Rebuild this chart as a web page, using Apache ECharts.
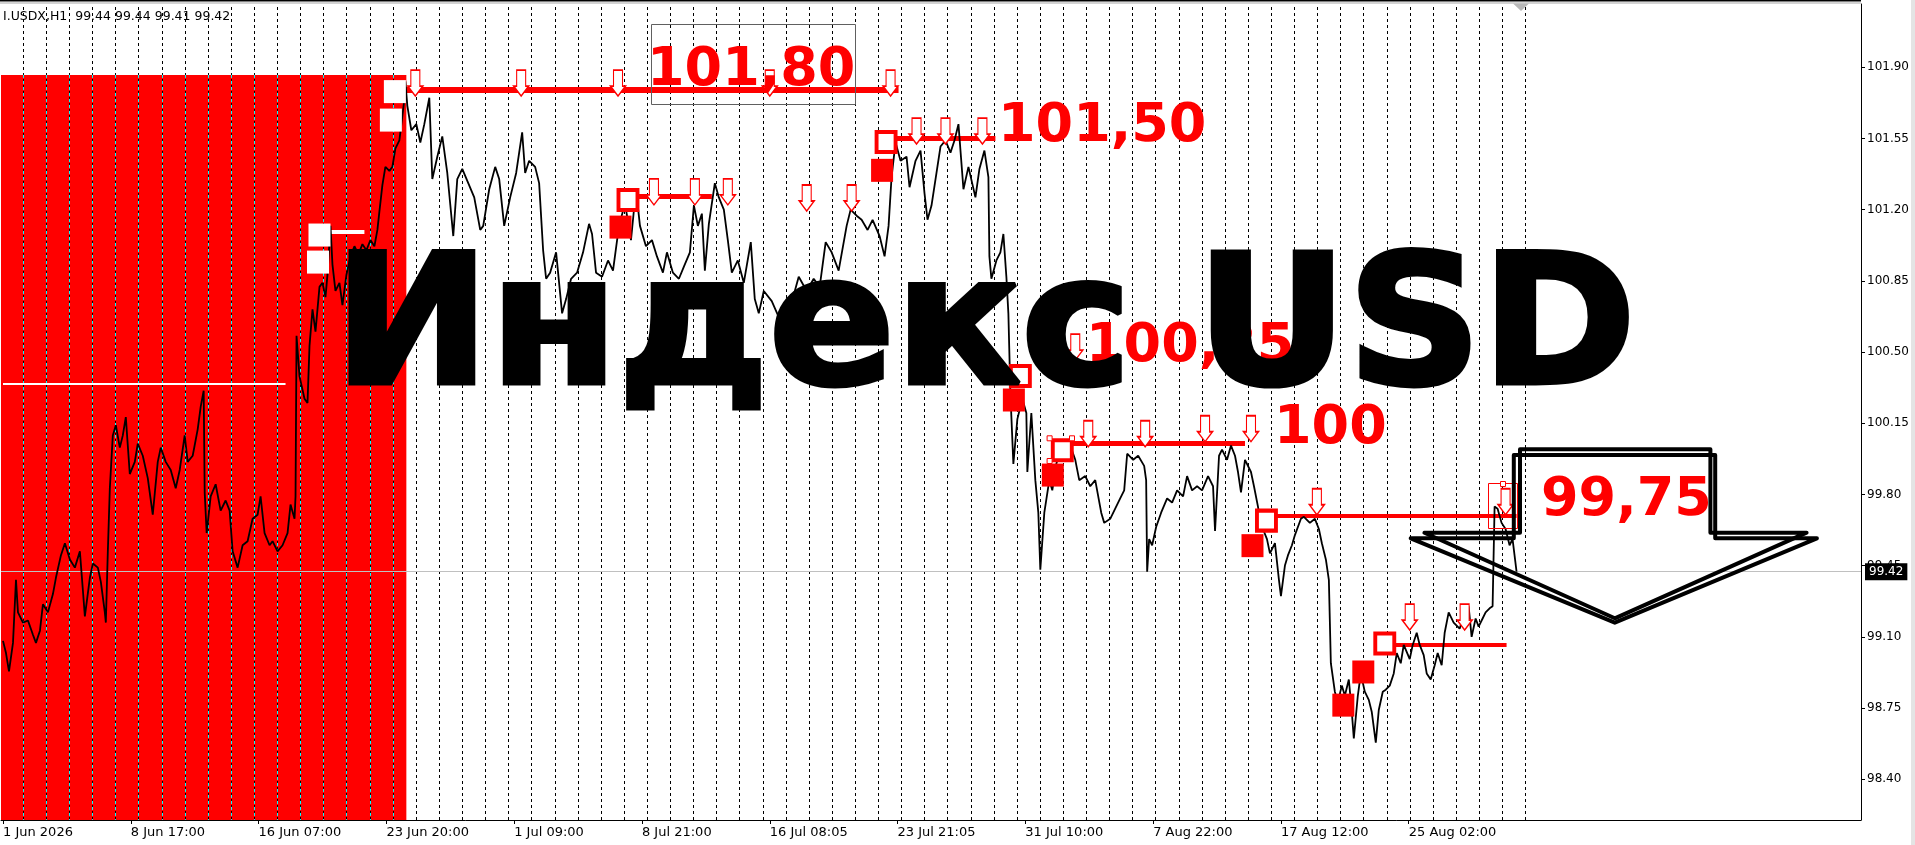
<!DOCTYPE html>
<html><head><meta charset="utf-8">
<script src="https://cdn.jsdelivr.net/npm/echarts@6/dist/echarts.min.js"></script>
<style>html,body{margin:0;padding:0;background:#fff;overflow:hidden}#c{width:1915px;height:845px}</style>
</head><body><div id="c"></div>
<script>
// ---------------- data ----------------
const timeLabels = ['1 Jun 2026','8 Jun 17:00','16 Jun 07:00','23 Jun 20:00','1 Jul 09:00','8 Jul 21:00','16 Jul 08:05','23 Jul 21:05','31 Jul 10:00','7 Aug 22:00','17 Aug 12:00','25 Aug 02:00'];
const timeLabelBars = [0,128,256,384,512,640,768,896,1024,1152,1280,1408];
const priceTicks = [98.40,98.75,99.10,99.45,99.80,100.15,100.50,100.85,101.20,101.55,101.90];
const headerText = 'I.USDX,H1  99.44 99.44 99.41 99.42';
const lastPrice = 99.42;
// [bar index, close]
const closeSeries = [[0,99.08],[3,99.02],[6,98.93],[10,99.07],[13,99.38],[15,99.22],[20,99.17],[25,99.18],[30,99.11],[33,99.07],[37,99.13],[40,99.26],[45,99.22],[50,99.31],[53,99.39],[58,99.50],[62,99.56],[67,99.48],[72,99.44],[77,99.52],[80,99.33],[82,99.20],[87,99.39],[90,99.46],[95,99.44],[98,99.37],[102,99.22],[103,99.17],[105,99.52],[107,99.83],[110,100.09],[113,100.14],[117,100.03],[120,100.09],[123,100.18],[127,99.90],[132,99.96],[135,100.05],[140,99.99],[145,99.88],[150,99.70],[155,99.96],[158,100.03],[163,99.96],[168,99.92],[173,99.83],[177,99.92],[182,100.09],[185,99.96],[190,99.99],[195,100.12],[198,100.23],[201,100.31],[202,99.81],[204,99.61],[208,99.79],[213,99.85],[218,99.72],[223,99.77],[227,99.72],[230,99.52],[235,99.44],[240,99.55],[245,99.57],[250,99.68],[255,99.70],[258,99.79],[262,99.61],[267,99.55],[270,99.57],[275,99.52],[280,99.55],[285,99.61],[288,99.75],[292,99.68],[293,99.79],[294,100.58],[297,100.38],[302,100.27],[305,100.25],[307,100.53],[310,100.71],[313,100.60],[317,100.82],[320,100.84],[323,100.77],[325,100.88],[328,101.12],[330,100.93],[333,100.80],[337,100.84],[340,100.73],[344,100.88],[348,100.97],[352,101.02],[356,100.98],[360,101.03],[364,101.00],[368,101.05],[372,101.02],[375,101.10],[377,101.19],[380,101.32],[383,101.41],[387,101.39],[390,101.41],[393,101.50],[397,101.54],[399,101.62],[402,101.74],[403,101.83],[405,101.71],[409,101.59],[414,101.62],[418,101.53],[422,101.62],[427,101.75],[430,101.35],[435,101.46],[440,101.56],[445,101.38],[451,101.07],[455,101.35],[460,101.40],[466,101.33],[472,101.26],[478,101.10],[481,101.12],[487,101.30],[493,101.41],[497,101.35],[502,101.12],[508,101.26],[514,101.38],[520,101.58],[523,101.38],[527,101.44],[533,101.41],[537,101.33],[541,101.00],[544,100.86],[548,100.89],[554,100.99],[560,100.69],[564,100.76],[569,100.86],[575,100.89],[581,100.99],[587,101.13],[590,101.08],[594,100.89],[600,100.87],[606,100.95],[611,100.90],[617,101.12],[623,101.23],[629,101.05],[634,101.30],[638,101.12],[644,101.02],[650,101.05],[655,100.97],[661,100.89],[665,100.99],[671,100.89],[677,100.86],[682,100.92],[688,100.99],[692,101.22],[696,101.12],[700,101.18],[703,100.90],[707,101.13],[713,101.33],[717,101.26],[722,101.20],[726,101.05],[730,100.89],[736,100.95],[742,100.84],[749,101.04],[753,100.76],[757,100.69],[762,100.80],[770,100.75],[778,100.66],[785,100.72],[792,100.78],[797,100.87],[805,100.80],[812,100.86],[818,100.82],[824,101.04],[830,100.99],[837,100.90],[845,101.12],[849,101.20],[855,101.17],[860,101.15],[866,101.10],[871,101.15],[878,101.07],[883,100.97],[887,101.12],[890,101.36],[894,101.53],[899,101.44],[905,101.46],[908,101.31],[914,101.44],[919,101.49],[923,101.28],[926,101.15],[930,101.22],[935,101.38],[939,101.51],[944,101.54],[949,101.48],[953,101.54],[957,101.62],[962,101.30],[967,101.41],[974,101.26],[978,101.40],[983,101.49],[987,101.36],[988,100.97],[990,100.86],[995,100.95],[999,100.99],[1002,101.08],[1005,100.87],[1007,100.69],[1009,100.30],[1012,99.95],[1016,100.17],[1021,100.27],[1025,100.20],[1026,99.91],[1030,100.20],[1034,99.87],[1037,99.71],[1039,99.43],[1043,99.71],[1048,99.87],[1051,99.82],[1055,99.95],[1059,100.02],[1064,100.00],[1069,100.04],[1074,99.97],[1078,99.87],[1084,99.89],[1089,99.84],[1094,99.87],[1100,99.71],[1103,99.66],[1109,99.68],[1114,99.73],[1119,99.78],[1123,99.82],[1126,100.00],[1132,99.97],[1137,99.99],[1143,99.94],[1145,99.87],[1146,99.42],[1148,99.58],[1151,99.55],[1155,99.64],[1160,99.71],[1166,99.78],[1171,99.76],[1176,99.82],[1182,99.79],[1186,99.89],[1191,99.82],[1196,99.84],[1201,99.82],[1207,99.89],[1212,99.84],[1214,99.62],[1218,99.99],[1221,100.02],[1226,99.97],[1230,100.04],[1234,99.99],[1237,99.91],[1240,99.81],[1244,99.97],[1250,99.91],[1253,99.84],[1257,99.74],[1259,99.68],[1262,99.63],[1266,99.58],[1269,99.51],[1274,99.56],[1278,99.38],[1280,99.30],[1284,99.45],[1287,99.50],[1291,99.55],[1294,99.60],[1300,99.68],[1303,99.69],[1309,99.66],[1314,99.68],[1318,99.63],[1321,99.56],[1325,99.48],[1328,99.38],[1330,98.97],[1334,98.83],[1337,98.78],[1341,98.86],[1344,98.81],[1348,98.89],[1351,98.73],[1353,98.60],[1357,98.81],[1360,98.92],[1364,98.83],[1368,98.79],[1371,98.73],[1375,98.58],[1378,98.74],[1382,98.83],[1385,98.84],[1389,98.86],[1393,98.92],[1396,99.02],[1400,98.97],[1403,99.06],[1409,98.99],[1412,99.06],[1416,99.12],[1419,99.06],[1423,99.01],[1426,98.92],[1430,98.89],[1434,98.96],[1437,99.02],[1441,98.96],[1444,99.12],[1448,99.22],[1453,99.17],[1459,99.14],[1464,99.22],[1468,99.25],[1471,99.10],[1475,99.19],[1478,99.15],[1482,99.19],[1485,99.22],[1489,99.24],[1492,99.25],[1494,99.74],[1497,99.73],[1501,99.66],[1505,99.63],[1509,99.55],[1512,99.58],[1516,99.42]];
// red zone [startBar, endBar, topPrice]
const redZone = [-2, 404, 101.862];
// level lines [startBar, endBar, price]
const levelLines = [[388,897,101.79],[626,710,101.266],[884,994,101.552],[1061,1244,100.051],[1265,1516,99.695],[1384,1506,99.063]];
const whiteLines = [[0,283,100.345],[324,362,101.09]];
// down arrows [bar, tip price]
const downArrows = [[413,101.758],[519,101.758],[616,101.758],[768,101.758],[889,101.758],[652,101.223],[693,101.223],[726,101.223],[805,101.193],[850,101.193],[915,101.522],[944,101.522],[981,101.522],[1053,100.46],[1074,100.46],[1087,100.034],[1144,100.034],[1204,100.059],[1250,100.059],[1316,99.70],[1505,99.70],[1409,99.133],[1464,99.133]];
// squares [bar, price]
const filledSquares = [[618.5,101.114],[880.5,101.393],[1012.5,100.264],[1051.5,99.895],[1251.5,99.548],[1362.5,98.927],[1342.5,98.764]];
const outlinedSquares = [[626,101.247],[884.5,101.532],[1019,100.382],[1061,100.017],[1265.5,99.671],[1384,99.067]];
const whiteSquares = [[392.5,101.78],[388.5,101.64],[317,101.075],[315.5,100.942]];
const levelTexts = ['101,80','101,50','100,25','100','99,75'];
const bigTitle = 'Индекс USD';

// ---------------- layout ----------------
const W = 1915, H = 845;
const GRID = {left:-2, top:4, right:54, bottom:25};
const X_MIN = -2, X_MAX = 1861;
const Y_MAX = 102.2107, Y_MIN = 98.1994;
const FONT = '"DejaVu Sans", Tahoma, sans-serif';

const gridXs = []; for (let k = 0; k <= 65; k++) gridXs.push(+(20.2 + k*23.15).toFixed(2));
const cyanXs = gridXs.filter(x => x < redZone[1]);

const chart = echarts.init(document.getElementById('c'), null, {renderer:'canvas', width:W, height:H});
const dummy = [[100, 100]];
const seg = (a) => [{coord:[a[0], a[2]]}, {coord:[a[1], a[2]]}];
const levelWidths = [6,5,5,5,4,4];
const whiteWidths = [2,4];

const arrowPath = 'path://M3,0 L12,0 L12,16 L15,16 L7.5,26 L0,16 L3,16 Z';
const hidden = {showSymbol:false, symbol:'none', lineStyle:{opacity:0}, silent:true, animation:false};

const series = [
  Object.assign({type:'line', z:1, data:dummy,
   markLine:{silent:true, animation:false, symbol:['none','none'], label:{show:false},
     lineStyle:{color:'#000', type:[3,3], width:1}, data:gridXs.map(x => ({xAxis:x}))}}, hidden),
  Object.assign({type:'line', z:2, data:dummy,
   markArea:{silent:true, animation:false, itemStyle:{color:'#ff0000', opacity:1, borderWidth:0}, label:{show:false},
     data:[[{coord:[redZone[0], redZone[2]]}, {coord:[redZone[1], Y_MIN]}]]}}, hidden),
  Object.assign({type:'line', z:3, data:dummy,
   markLine:{silent:true, animation:false, symbol:['none','none'], label:{show:false},
     lineStyle:{color:'#00ffff', type:[3,3], width:1},
     data:cyanXs.map(x => [{coord:[x, redZone[2]]}, {coord:[x, Y_MIN]}])}}, hidden),
  Object.assign({type:'line', z:4, data:dummy,
   markLine:{silent:true, animation:false, symbol:['none','none'], label:{show:false},
     data:whiteLines.map((l,i) => { const s = seg(l); s[0].lineStyle = {color:'#fff', width:whiteWidths[i], type:'solid'}; return s; })}}, hidden),
  Object.assign({type:'line', z:4, data:dummy,
   markLine:{silent:true, animation:false, symbol:['none','none'],
     lineStyle:{color:'#c0c0c0', width:1, type:'solid'},
     label:{show:true, position:'end', distance:4, formatter:lastPrice.toFixed(2), color:'#fff', backgroundColor:'#000',
       padding:[3,4,2,4], fontSize:12, fontFamily:FONT},
     data:[{yAxis:lastPrice}]}}, hidden),
  {type:'line', z:5, data:closeSeries, showSymbol:false, silent:true, animation:false,
   lineStyle:{color:'#000', width:1.8}},
  {type:'scatter', z:6, silent:true, animation:false, symbol:'rect', symbolSize:[22,23],
   itemStyle:{color:'#ff0000', opacity:1}, data:filledSquares},
  {type:'scatter', z:6, silent:true, animation:false, symbol:'rect', symbolSize:[19,20],
   itemStyle:{color:'#ffffff', borderColor:'#ff0000', borderWidth:4, opacity:1}, data:outlinedSquares},
  {type:'scatter', z:6, silent:true, animation:false, symbol:'rect', symbolSize:[22,23],
   itemStyle:{color:'#ffffff', opacity:1}, data:whiteSquares},
  Object.assign({type:'line', z:7, data:dummy,
   markLine:{silent:true, animation:false, symbol:['none','none'], label:{show:false},
     data:levelLines.map((l,i) => { const s = seg(l); s[0].lineStyle = {color:'#ff0000', width:levelWidths[i], type:'solid'}; return s; })}}, hidden),
  {type:'scatter', z:8, silent:true, animation:false, symbol:arrowPath, symbolSize:[15,26], symbolOffset:[0,'-50%'],
   itemStyle:{color:'#ffffff', borderColor:'#ff0000', borderWidth:1.4, opacity:1}, data:downArrows}
];

function measure(txt, font){ const c = document.createElement('canvas').getContext('2d'); c.font = font; return c.measureText(txt).width; }
const bigFont = 'bold 180px "DejaVu Sans"';
const bigScale = 1302 / measure(bigTitle, bigFont);
const redFont = 'bold 54px "DejaVu Sans"';
const redPos = [[647,70.5],[998,126.5],[1086,346.5],[1274,428.5],[1541,500.5]];

const g = [];
g.push({type:'rect', z:50, shape:{x:0, y:0, width:X_MAX, height:1.6}, style:{fill:'#000'}});
g.push({type:'rect', z:50, shape:{x:0, y:2.4, width:X_MAX, height:1}, style:{fill:'#a8a8a8'}});
g.push({type:'polygon', z:50, shape:{points:[[1513,3.5],[1529,3.5],[1521,11]]}, style:{fill:'#b8b8b8'}});
g.push({type:'rect', z:50, shape:{x:1911, y:0, width:4, height:H}, style:{fill:'#e4e4e4'}});
g.push({type:'text', z:50, x:3, y:16.3, style:{text:headerText, font:'12.5px '+FONT, fill:'#000', textVerticalAlign:'middle', verticalAlign:'middle'}});
// box around 101,80
g.push({type:'rect', z:60, shape:{x:651.5, y:24.5, width:204, height:80}, style:{fill:'none', stroke:'#606060', lineWidth:1}});
// thin selection rect near the end
g.push({type:'rect', z:60, shape:{x:1488.5, y:483.5, width:29, height:45}, style:{fill:'none', stroke:'#ff0000', lineWidth:1}});
[[1503,484],[1049.6,438.3],[1072,438.3],[1049.6,461]].forEach(p => g.push({type:'rect', z:61, shape:{x:p[0]-2.5, y:p[1]-2.5, width:5, height:5}, style:{fill:'#fff', stroke:'#ff0000', lineWidth:1}}));
// red level texts
levelTexts.forEach((t,i) => g.push({type:'text', z:(i===2?90:95), x:redPos[i][0], y:redPos[i][1],
  style:{text:t, font:redFont, fill:'#ff0000', textVerticalAlign:'middle', verticalAlign:'middle'}}));
// big black title (heavier with stroke)
g.push({type:'text', z:100, x:334, y:336.5, scaleX:bigScale, scaleY:1,
  style:{text:bigTitle, font:bigFont, fill:'#000', stroke:'#000', lineWidth:5, lineJoin:'miter', textVerticalAlign:'middle', verticalAlign:'middle'}});
// big hollow arrow drawn twice
const arrowA = {top:449.3, left:1520, right:1710.4, wingY:532.7, wingL:1424.4, wingR:1806.6, tipX:1614.8, tipY:618.3};
const arrowB = {top:455, left:1513.8, right:1715.2, wingY:538.3, wingL:1410.7, wingR:1816.9, tipX:1614.8, tipY:622.7};
[arrowA, arrowB].forEach(a => g.push({type:'polygon', z:100,
  shape:{points:[[a.left,a.top],[a.right,a.top],[a.right,a.wingY],[a.wingR,a.wingY],[a.tipX,a.tipY],[a.wingL,a.wingY],[a.left,a.wingY]]},
  style:{fill:'none', stroke:'#000', lineWidth:4, lineJoin:'round'}}));

chart.setOption({
  animation:false,
  backgroundColor:'#fff',
  grid:{left:GRID.left, top:GRID.top, right:GRID.right, bottom:GRID.bottom, containLabel:false},
  xAxis:{type:'value', min:X_MIN, max:X_MAX,
    axisLine:{show:true, onZero:false, lineStyle:{color:'#000', width:1}},
    axisTick:{show:true, customValues:timeLabelBars, length:4, lineStyle:{color:'#000'}},
    axisLabel:{show:true, customValues:timeLabelBars, formatter:(v)=>{const i=timeLabelBars.indexOf(Math.round(v)); return i>=0?timeLabels[i]:'';},
      align:'left', margin:6, color:'#000', fontSize:13, fontFamily:FONT},
    splitLine:{show:false}},
  yAxis:{type:'value', position:'right', min:Y_MIN, max:Y_MAX,
    axisLine:{show:true, onZero:false, lineStyle:{color:'#000', width:1}},
    axisTick:{show:true, customValues:priceTicks, length:4, lineStyle:{color:'#000'}},
    axisLabel:{show:true, customValues:priceTicks, formatter:(v)=>v.toFixed(2), margin:6, color:'#000', fontSize:12, fontFamily:FONT},
    splitLine:{show:false}},
  series:series,
  graphic:{elements:g}
});
</script>
</body></html>
